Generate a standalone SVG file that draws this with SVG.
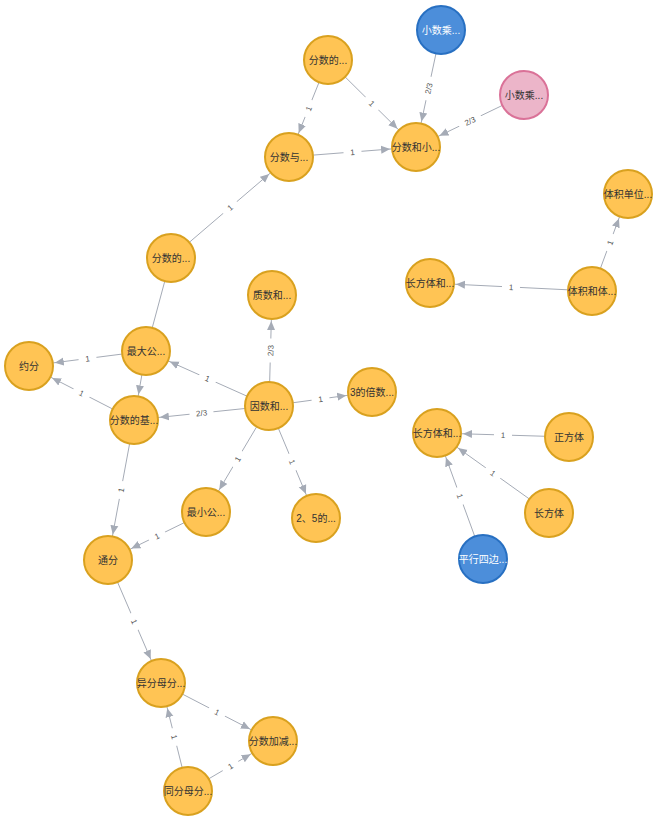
<svg xmlns="http://www.w3.org/2000/svg" width="657" height="821" viewBox="0 0 657 821">
<defs>
<style>
.e{stroke:#A5ABB6;stroke-width:1;fill:none}
.a{marker-end:url(#arr)}
.lb{fill:#fff}
.lt{font-family:"Liberation Sans","Noto Sans CJK SC",sans-serif;font-size:8px;fill:#555;text-anchor:middle}
.n circle{stroke-width:2}
.o circle{fill:#FFC454;stroke:#D9A11F}
.b circle{fill:#4C8EDA;stroke:#2870C2}
.p circle{fill:#ECB5C9;stroke:#DA7298}
.n text{font-family:"Liberation Sans","Noto Sans CJK SC",sans-serif;font-size:10px;text-anchor:middle;fill:#333}
.b text{fill:#fff}
</style>
<marker id="arr" viewBox="0 -5 40 10" markerWidth="40" markerHeight="10" refX="35" refY="0" orient="auto" markerUnits="userSpaceOnUse">
<path d="M0,-4 L9,0 L0,4 Z" fill="#A5ABB6"/>
</marker>
</defs>
<rect width="657" height="821" fill="#fff"/>
<g id="connectors">
<line class="e a" x1="441" y1="30" x2="416" y2="147"/>
<line class="e a" x1="524" y1="95" x2="416" y2="147"/>
<line class="e a" x1="328" y1="60" x2="416" y2="147"/>
<line class="e a" x1="328" y1="60" x2="289" y2="157"/>
<line class="e a" x1="289" y1="157" x2="416" y2="147"/>
<line class="e a" x1="171" y1="258" x2="289" y2="157"/>
<line class="e" x1="171" y1="258" x2="146" y2="351"/>
<line class="e a" x1="146" y1="351" x2="29" y2="366"/>
<line class="e a" x1="146" y1="351" x2="134" y2="420"/>
<line class="e a" x1="134" y1="420" x2="29" y2="366"/>
<line class="e a" x1="269" y1="406" x2="146" y2="351"/>
<line class="e a" x1="269" y1="406" x2="134" y2="420"/>
<line class="e a" x1="269" y1="406" x2="272" y2="295"/>
<line class="e a" x1="269" y1="406" x2="372" y2="392"/>
<line class="e a" x1="269" y1="406" x2="206" y2="512"/>
<line class="e a" x1="269" y1="406" x2="316" y2="518"/>
<line class="e a" x1="134" y1="420" x2="108" y2="560"/>
<line class="e a" x1="206" y1="512" x2="108" y2="560"/>
<line class="e a" x1="108" y1="560" x2="161" y2="683"/>
<line class="e a" x1="161" y1="683" x2="273" y2="741"/>
<line class="e a" x1="188" y1="791" x2="161" y2="683"/>
<line class="e a" x1="188" y1="791" x2="273" y2="741"/>
<line class="e a" x1="592" y1="291" x2="628" y2="194"/>
<line class="e a" x1="592" y1="291" x2="430" y2="283"/>
<line class="e a" x1="569" y1="437" x2="437" y2="433"/>
<line class="e a" x1="549" y1="513" x2="437" y2="433"/>
<line class="e a" x1="483" y1="559" x2="437" y2="433"/>
<g transform="translate(428.5,88.5) rotate(-77.9)"><rect class="lb" x="-12" y="-5" width="24" height="10"/><text class="lt" y="3">2/3</text></g>
<g transform="translate(470,121) rotate(-25.7)"><rect class="lb" x="-12" y="-5" width="24" height="10"/><text class="lt" y="3">2/3</text></g>
<g transform="translate(372,103.5) rotate(44.7)"><rect class="lb" x="-9" y="-5" width="18" height="10"/><text class="lt" y="3">1</text></g>
<g transform="translate(308.5,108.5) rotate(-68.1)"><rect class="lb" x="-9" y="-5" width="18" height="10"/><text class="lt" y="3">1</text></g>
<g transform="translate(352.5,152) rotate(-4.5)"><rect class="lb" x="-9" y="-5" width="18" height="10"/><text class="lt" y="3">1</text></g>
<g transform="translate(230,207.5) rotate(-40.6)"><rect class="lb" x="-9" y="-5" width="18" height="10"/><text class="lt" y="3">1</text></g>
<g transform="translate(87.5,358.5) rotate(-7.3)"><rect class="lb" x="-9" y="-5" width="18" height="10"/><text class="lt" y="3">1</text></g>
<g transform="translate(81.5,393) rotate(27.2)"><rect class="lb" x="-9" y="-5" width="18" height="10"/><text class="lt" y="3">1</text></g>
<g transform="translate(207.5,378.5) rotate(24.1)"><rect class="lb" x="-9" y="-5" width="18" height="10"/><text class="lt" y="3">1</text></g>
<g transform="translate(201.5,413) rotate(-5.9)"><rect class="lb" x="-12" y="-5" width="24" height="10"/><text class="lt" y="3">2/3</text></g>
<g transform="translate(270.5,350.5) rotate(-88.5)"><rect class="lb" x="-12" y="-5" width="24" height="10"/><text class="lt" y="3">2/3</text></g>
<g transform="translate(320.5,399) rotate(-7.7)"><rect class="lb" x="-9" y="-5" width="18" height="10"/><text class="lt" y="3">1</text></g>
<g transform="translate(237.5,459) rotate(-59.3)"><rect class="lb" x="-9" y="-5" width="18" height="10"/><text class="lt" y="3">1</text></g>
<g transform="translate(292.5,462) rotate(67.2)"><rect class="lb" x="-9" y="-5" width="18" height="10"/><text class="lt" y="3">1</text></g>
<g transform="translate(121,490) rotate(-79.5)"><rect class="lb" x="-9" y="-5" width="18" height="10"/><text class="lt" y="3">1</text></g>
<g transform="translate(157,536) rotate(-26.1)"><rect class="lb" x="-9" y="-5" width="18" height="10"/><text class="lt" y="3">1</text></g>
<g transform="translate(134.5,621.5) rotate(66.7)"><rect class="lb" x="-9" y="-5" width="18" height="10"/><text class="lt" y="3">1</text></g>
<g transform="translate(217,712) rotate(27.4)"><rect class="lb" x="-9" y="-5" width="18" height="10"/><text class="lt" y="3">1</text></g>
<g transform="translate(174.5,737) rotate(76)"><rect class="lb" x="-9" y="-5" width="18" height="10"/><text class="lt" y="3">1</text></g>
<g transform="translate(230.5,766) rotate(-30.5)"><rect class="lb" x="-9" y="-5" width="18" height="10"/><text class="lt" y="3">1</text></g>
<g transform="translate(610,242.5) rotate(-69.6)"><rect class="lb" x="-9" y="-5" width="18" height="10"/><text class="lt" y="3">1</text></g>
<g transform="translate(511,287) rotate(2.8)"><rect class="lb" x="-9" y="-5" width="18" height="10"/><text class="lt" y="3">1</text></g>
<g transform="translate(503,435) rotate(1.7)"><rect class="lb" x="-9" y="-5" width="18" height="10"/><text class="lt" y="3">1</text></g>
<g transform="translate(493,473) rotate(35.5)"><rect class="lb" x="-9" y="-5" width="18" height="10"/><text class="lt" y="3">1</text></g>
<g transform="translate(460,496) rotate(70)"><rect class="lb" x="-9" y="-5" width="18" height="10"/><text class="lt" y="3">1</text></g>
</g>
<g id="n-A" class="n b"><circle cx="441" cy="30" r="24"/><text x="441" y="34">小数乘...</text></g>
<g id="n-B" class="n p"><circle cx="524" cy="95" r="24"/><text x="524" y="99">小数乘...</text></g>
<g id="n-C" class="n o"><circle cx="328" cy="60" r="24"/><text x="328" y="64">分数的...</text></g>
<g id="n-D" class="n o"><circle cx="289" cy="157" r="24"/><text x="289" y="161">分数与...</text></g>
<g id="n-E" class="n o"><circle cx="416" cy="147" r="24"/><text x="416" y="151">分数和小...</text></g>
<g id="n-F" class="n o"><circle cx="171" cy="258" r="24"/><text x="171" y="262">分数的...</text></g>
<g id="n-G" class="n o"><circle cx="272" cy="295" r="24"/><text x="272" y="299">质数和...</text></g>
<g id="n-H" class="n o"><circle cx="146" cy="351" r="24"/><text x="146" y="355">最大公...</text></g>
<g id="n-I" class="n o"><circle cx="29" cy="366" r="24"/><text x="29" y="370">约分</text></g>
<g id="n-J" class="n o"><circle cx="134" cy="420" r="24"/><text x="134" y="424">分数的基...</text></g>
<g id="n-K" class="n o"><circle cx="269" cy="406" r="24"/><text x="269" y="410">因数和...</text></g>
<g id="n-L" class="n o"><circle cx="372" cy="392" r="24"/><text x="372" y="396">3的倍数...</text></g>
<g id="n-M" class="n o"><circle cx="628" cy="194" r="24"/><text x="628" y="198">体积单位...</text></g>
<g id="n-N" class="n o"><circle cx="430" cy="283" r="24"/><text x="430" y="287">长方体和...</text></g>
<g id="n-O" class="n o"><circle cx="592" cy="291" r="24"/><text x="592" y="295">体积和体...</text></g>
<g id="n-P" class="n o"><circle cx="437" cy="433" r="24"/><text x="437" y="437">长方体和...</text></g>
<g id="n-Q" class="n o"><circle cx="569" cy="437" r="24"/><text x="569" y="441">正方体</text></g>
<g id="n-R" class="n o"><circle cx="549" cy="513" r="24"/><text x="549" y="517">长方体</text></g>
<g id="n-S" class="n b"><circle cx="483" cy="559" r="24"/><text x="483" y="563">平行四边...</text></g>
<g id="n-T" class="n o"><circle cx="206" cy="512" r="24"/><text x="206" y="516">最小公...</text></g>
<g id="n-U" class="n o"><circle cx="316" cy="518" r="24"/><text x="316" y="522">2、5的...</text></g>
<g id="n-V" class="n o"><circle cx="108" cy="560" r="24"/><text x="108" y="564">通分</text></g>
<g id="n-W" class="n o"><circle cx="161" cy="683" r="24"/><text x="161" y="687">异分母分...</text></g>
<g id="n-X" class="n o"><circle cx="273" cy="741" r="24"/><text x="273" y="745">分数加减...</text></g>
<g id="n-Y" class="n o"><circle cx="188" cy="791" r="24"/><text x="188" y="795">同分母分...</text></g>
</svg>
